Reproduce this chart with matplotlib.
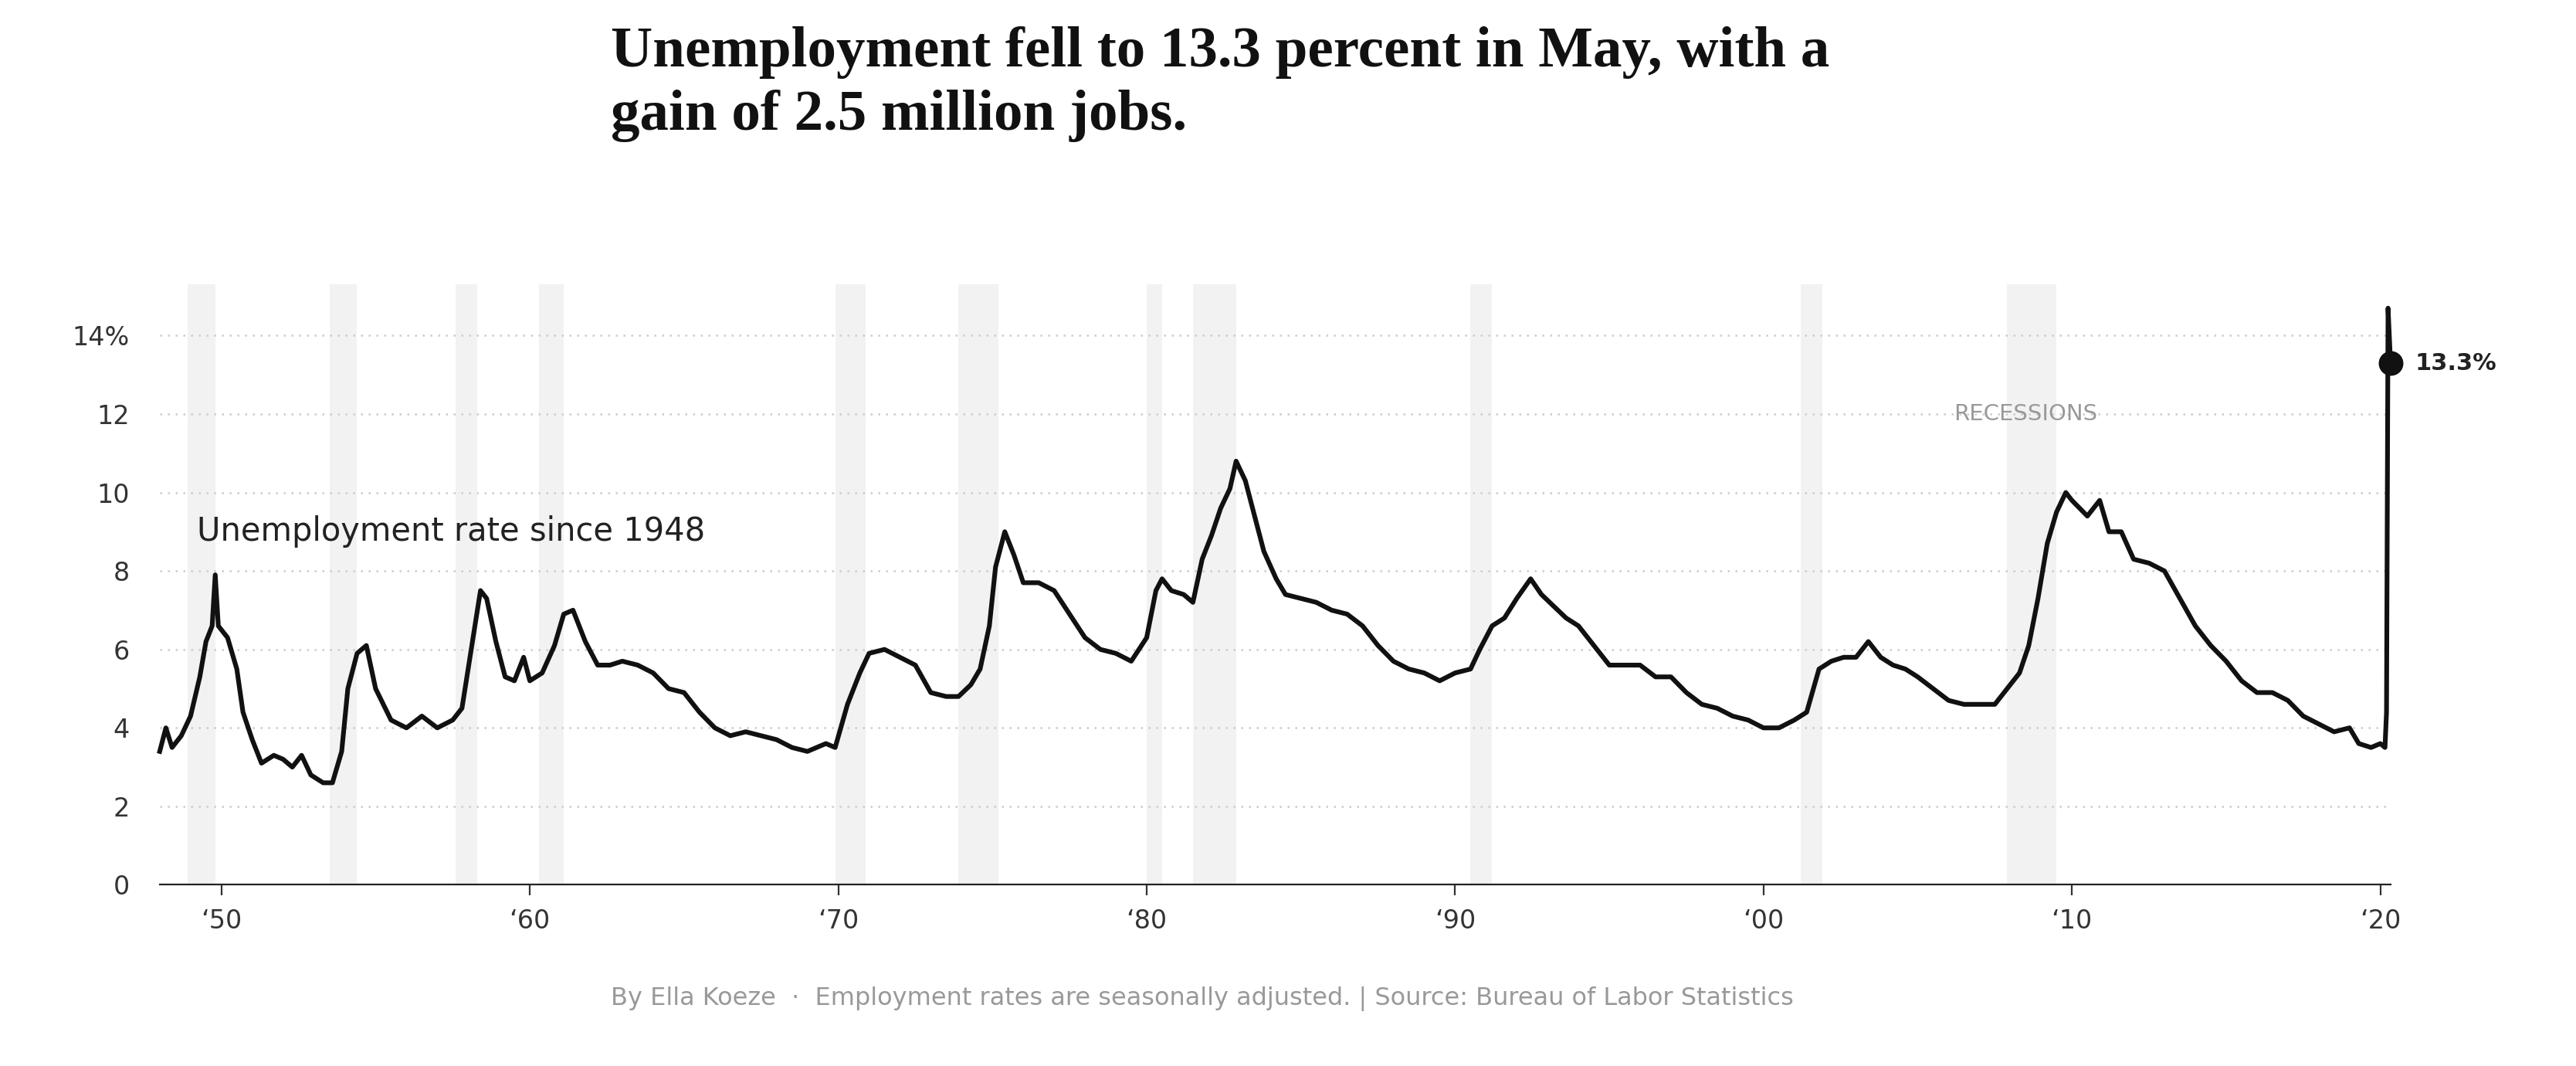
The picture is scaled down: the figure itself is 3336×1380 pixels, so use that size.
import matplotlib.pyplot as plt

# (decimal year, unemployment rate %)
years = [1948.0, 1948.2, 1948.4, 1948.7, 1949.0, 1949.3, 1949.5, 1949.7, 1949.8, 1949.9,
         1950.2, 1950.5, 1950.7, 1951.0, 1951.3, 1951.7, 1952.0, 1952.3, 1952.6, 1952.9,
         1953.3, 1953.6, 1953.9, 1954.1, 1954.4, 1954.7, 1955.0, 1955.5, 1956.0, 1956.5,
         1957.0, 1957.5, 1957.8, 1958.1, 1958.4, 1958.6, 1958.9, 1959.2, 1959.5, 1959.8,
         1960.0, 1960.4, 1960.8, 1961.1, 1961.4, 1961.8, 1962.2, 1962.6, 1963.0, 1963.5,
         1964.0, 1964.5, 1965.0, 1965.5, 1966.0, 1966.5, 1967.0, 1967.5, 1968.0, 1968.5,
         1969.0, 1969.6, 1969.9, 1970.3, 1970.7, 1971.0, 1971.5, 1972.0, 1972.5, 1973.0,
         1973.5, 1973.9, 1974.3, 1974.6, 1974.9, 1975.1, 1975.4, 1975.7, 1976.0, 1976.5,
         1977.0, 1977.5, 1978.0, 1978.5, 1979.0, 1979.5, 1980.0, 1980.3, 1980.5, 1980.8,
         1981.2, 1981.5, 1981.8, 1982.1, 1982.4, 1982.7, 1982.9, 1983.2, 1983.5, 1983.8,
         1984.2, 1984.5, 1985.0, 1985.5, 1986.0, 1986.5, 1987.0, 1987.5, 1988.0, 1988.5,
         1989.0, 1989.5, 1990.0, 1990.5, 1990.8, 1991.2, 1991.6, 1992.0, 1992.45, 1992.8,
         1993.2, 1993.6, 1994.0, 1994.5, 1995.0, 1995.5, 1996.0, 1996.5, 1997.0, 1997.5,
         1998.0, 1998.5, 1999.0, 1999.5, 2000.0, 2000.5, 2001.0, 2001.4, 2001.8, 2002.2,
         2002.6, 2003.0, 2003.4, 2003.8, 2004.2, 2004.6, 2005.0, 2005.5, 2006.0, 2006.5,
         2007.0, 2007.5, 2007.9, 2008.3, 2008.6, 2008.9, 2009.2, 2009.5, 2009.8, 2010.0,
         2010.5, 2010.9, 2011.2, 2011.6, 2012.0, 2012.5, 2013.0, 2013.5, 2014.0, 2014.5,
         2015.0, 2015.5, 2016.0, 2016.5, 2017.0, 2017.5, 2018.0, 2018.5, 2019.0, 2019.3,
         2019.7, 2020.0, 2020.15, 2020.2, 2020.25, 2020.33]
rates = [3.4, 4.0, 3.5, 3.8, 4.3, 5.3, 6.2, 6.6, 7.9, 6.6,
         6.3, 5.5, 4.4, 3.7, 3.1, 3.3, 3.2, 3.0, 3.3, 2.8,
         2.6, 2.6, 3.4, 5.0, 5.9, 6.1, 5.0, 4.2, 4.0, 4.3,
         4.0, 4.2, 4.5, 6.0, 7.5, 7.3, 6.2, 5.3, 5.2, 5.8,
         5.2, 5.4, 6.1, 6.9, 7.0, 6.2, 5.6, 5.6, 5.7, 5.6,
         5.4, 5.0, 4.9, 4.4, 4.0, 3.8, 3.9, 3.8, 3.7, 3.5,
         3.4, 3.6, 3.5, 4.6, 5.4, 5.9, 6.0, 5.8, 5.6, 4.9,
         4.8, 4.8, 5.1, 5.5, 6.6, 8.1, 9.0, 8.4, 7.7, 7.7,
         7.5, 6.9, 6.3, 6.0, 5.9, 5.7, 6.3, 7.5, 7.8, 7.5,
         7.4, 7.2, 8.3, 8.9, 9.6, 10.1, 10.8, 10.3, 9.4, 8.5,
         7.8, 7.4, 7.3, 7.2, 7.0, 6.9, 6.6, 6.1, 5.7, 5.5,
         5.4, 5.2, 5.4, 5.5, 6.0, 6.6, 6.8, 7.3, 7.8, 7.4,
         7.1, 6.8, 6.6, 6.1, 5.6, 5.6, 5.6, 5.3, 5.3, 4.9,
         4.6, 4.5, 4.3, 4.2, 4.0, 4.0, 4.2, 4.4, 5.5, 5.7,
         5.8, 5.8, 6.2, 5.8, 5.6, 5.5, 5.3, 5.0, 4.7, 4.6,
         4.6, 4.6, 5.0, 5.4, 6.1, 7.3, 8.7, 9.5, 10.0, 9.8,
         9.4, 9.8, 9.0, 9.0, 8.3, 8.2, 8.0, 7.3, 6.6, 6.1,
         5.7, 5.2, 4.9, 4.9, 4.7, 4.3, 4.1, 3.9, 4.0, 3.6,
         3.5, 3.6, 3.5, 4.4, 14.7, 13.3]

rec_start = [1948.9, 1953.5, 1957.6, 1960.3, 1969.9, 1973.9, 1980.0, 1981.5, 1990.5, 2001.2, 2007.9]
rec_end = [1949.8, 1954.4, 1958.3, 1961.1, 1970.9, 1975.2, 1980.5, 1982.9, 1991.2, 2001.9, 2009.5]

y_ticks = [0, 2, 4, 6, 8, 10, 12, 14]
y_labels = ["0", "2", "4", "6", "8", "10", "12", "14%"]
x_ticks = [1950, 1960, 1970, 1980, 1990, 2000, 2010, 2020]
x_labels = ["\u201850", "\u201860", "\u201870", "\u201880", "\u201890", "\u201800", "\u201810", "\u201820"]

fig = plt.figure(figsize=(16.68, 6.9), dpi=200)
ax = fig.add_axes([0.062, 0.17, 0.866, 0.563])

for s, e in zip(rec_start, rec_end):
    ax.axvspan(s, e, color="#f2f2f2", lw=0, zorder=0)
for y in y_ticks[1:]:
    ax.axhline(y, color="#cccccc", ls=(0, (1, 3)), lw=0.9, zorder=1)

ax.plot(years, rates, color="#111111", lw=2.2, zorder=3, solid_joinstyle="round", clip_on=False)
ax.scatter([years[-1]], [rates[-1]], s=110, color="#111111", zorder=4, clip_on=False)
ax.text(years[-1] + 0.8, rates[-1], "13.3%", fontsize=11, fontweight="bold",
        va="center", color="#222222")

ax.set_xlim(1948, 2020.33)
ax.set_ylim(0, 15.3)
ax.set_yticks(y_ticks, y_labels)
ax.set_xticks(x_ticks, x_labels)
ax.tick_params(axis="y", length=0, labelsize=12, colors="#333333", pad=14)
ax.tick_params(axis="x", length=5, labelsize=12, colors="#333333", pad=6)
for sp in ["top", "right", "left"]:
    ax.spines[sp].set_visible(False)
ax.spines["bottom"].set_color("#222222")

ax.text(1949.2, 9.0, "Unemployment rate since 1948", fontsize=15, color="#222222", va="center")
ax.text(2008.5, 12.0, "RECESSIONS", fontsize=10.5, color="#999999", ha="center", va="center")

fig.text(0.237, 0.975, "Unemployment fell to 13.3 percent in May, with a\ngain of 2.5 million jobs.",
         fontsize=27, fontweight="bold", family="Liberation Serif", va="top",
         linespacing=1.25, color="#111111")
fig.text(0.237, 0.063, "By Ella Koeze  \u00b7  Employment rates are seasonally adjusted. | Source: Bureau of Labor Statistics",
         fontsize=11.5, color="#999999", va="center")

fig.savefig("out.png", dpi=200)
